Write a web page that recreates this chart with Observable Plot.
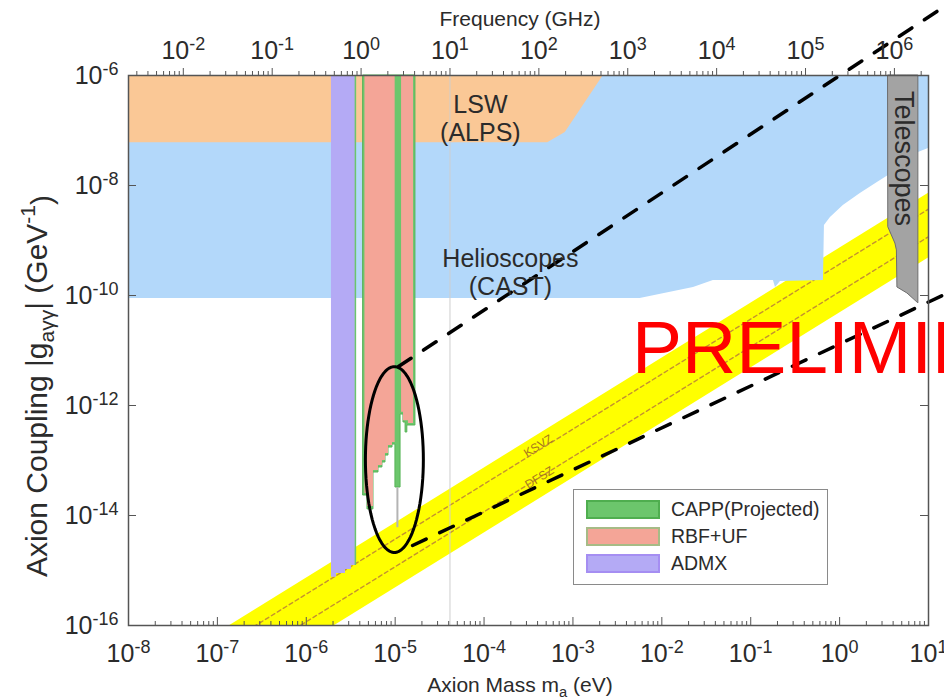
<!DOCTYPE html>
<html><head><meta charset="utf-8">
<script src="https://cdn.jsdelivr.net/npm/d3@7"></script>
<script src="https://cdn.jsdelivr.net/npm/@observablehq/plot@0.6"></script>
<style>
html,body{margin:0;padding:0;background:#fff;overflow:hidden}
#wrap{position:relative;width:944px;height:700px;overflow:hidden;font-family:"Liberation Sans",Arial,Helvetica,sans-serif}
#legend{position:absolute;left:573px;top:489px;width:255px;height:96px;border:1.5px solid #8a8a8a;background:#fff;box-sizing:border-box}
.row{position:absolute;left:12px;height:22px;display:flex;align-items:center}
.sw{width:74px;height:19px;box-sizing:border-box;border:2px solid}
.lab{margin-left:11px;font-size:19.5px;color:#2b2b2b;white-space:nowrap}
</style></head><body><div id="wrap"></div><script>
const FONT = '"Liberation Sans", Arial, Helvetica, sans-serif';
// ---- axes ----
const massTicks = [1e-8,1e-7,1e-6,1e-5,1e-4,1e-3,1e-2,1e-1,1,10];
const couplingTicks = [1e-16,1e-14,1e-12,1e-10,1e-8,1e-6];
const freqTicksGHz = [1e-2,1e-1,1,10,100,1e3,1e4,1e5,1e6];
const EV_PER_GHZ = 4.1357e-6;           // m = h f
const tenGHzMass = 10 * EV_PER_GHZ;      // thin reference line

// ---- exclusion regions ----
const lswMass  = [1e-8, 5.2e-4, 8.2e-4, 2.2e-3];
const lswLimit = [6.0e-8, 6.0e-8, 9.2e-8, 1e-6];

const castMass  = [1e-8, 5.7e-3, 2.27e-2, 3.8e-2, 0.180, 0.190, 0.216, 0.658, 0.675, 0.789, 1.10, 1.71, 2.66, 3.54, 7.69, 10];
const castLimit = [8.8e-11, 8.8e-11, 1.40e-10, 1.87e-10, 1.87e-10, 1.40e-10, 1.80e-10, 1.87e-10, 1.87e-9, 2.62e-9, 4.33e-9, 7.16e-9, 1.13e-8, 1.52e-8, 3.98e-8, 4.71e-8];

const admxMass  = [1.92e-6, 2.19e-6, 2.76e-6, 3.22e-6, 3.57e-6];
const admxLimit = [7.5e-16, 8.8e-16, 1.04e-15, 1.23e-15, 1.23e-15];

const cappMass  = [4.40e-6, 4.88e-6, 5.70e-6, 6.49e-6, 7.19e-6, 7.78e-6, 8.41e-6, 9.33e-6, 1.007e-5, 1.15e-5, 1.24e-5, 1.31e-5, 1.37e-5, 1.69e-5];
const cappLimit = [2.31e-14, 1.29e-14, 6.05e-14, 7.46e-14, 9.2e-14, 1.23e-13, 1.72e-13, 1.95e-13, 3.23e-14, 6.86e-13, 4.91e-13, 3.23e-13, 4.33e-13, 4.33e-13];
const cappSpikeMass = [1.06e-5];
const cappSpikeRange = [6.0e-15, 3.2e-14];

const rbf1Mass  = [4.57e-6, 4.88e-6, 5.70e-6, 6.49e-6, 7.19e-6, 7.78e-6, 8.41e-6, 9.33e-6, 1.0e-5];
const rbf1Limit = [2.5e-14, 1.46e-14, 6.6e-14, 8.1e-14, 1.0e-13, 1.34e-13, 1.87e-13, 2.12e-13, 2.12e-13];
const rbf2Mass  = [1.18e-5, 1.24e-5, 1.41e-5, 1.61e-5];
const rbf2Limit = [7.5e-13, 5.3e-13, 4.7e-13, 4.7e-13];

const telMass  = [3.54, 4.24, 4.41, 4.47, 5.79, 7.69];
const telLimit = [1.72e-9, 8.8e-10, 6.6e-10, 1.40e-10, 1.09e-10, 7.2e-11];

// ---- QCD axion band & models ----
const bandMass  = [1e-8, 10];
const bandUpper = [7.24e-18, 7.24e-9];
const bandLower = [4.79e-19, 4.79e-10];
const ksvzG = [3.72e-18, 3.72e-9];
const dfszG = [1.17e-18, 1.17e-9];

// ---- projected reach (black dashed) ----
const projUpperMass = [1.09e-5, 15.1];
const projUpperG    = [5.1e-12, 1.8e-5];
const projLowerMass = [1.57e-5, 15.1];
const projLowerG    = [2.85e-15, 1.04e-10];

// ---- highlight ellipse (centre in data units, half-axes in decades) ----
const ellipseCenter = [9.8e-6, 1.04e-13];
const ellipseHalfAxes = [0.326, 1.69];

// ---- labels ----
const regionLabels = [
  {m: 9.1e-5, g: 1.72e-7, t: "LSW\n(ALPS)"},
  {m: 1.98e-4, g: 2.62e-10, t: "Helioscopes\n(CAST)"}
];
const telLabel = [{m: 5.22, g: 3.1e-8, t: "Telescopes"}];
const modelLabels = [
  {m: 4.3e-4, g: 1.6e-13, t: "KSVZ", anchor: "bottom"},
  {m: 4.2e-4, g: 4.9e-14, t: "DFSZ", anchor: "middle"}
];

const zip = (xs, ys) => xs.map((m, i) => ({m, g: ys[i]}));
const dec = (d) => Math.round(Math.log10(d));
const massMinor = [];
for (let k = -8; k < 1; k++) for (let j = 2; j <= 9; j++) massMinor.push(j * 10 ** k);
const freqMajorMass = freqTicksGHz.map(f => f * EV_PER_GHZ);
const freqMinorMass = [];
for (let k = -3; k <= 6; k++) for (let j = 2; j <= 9; j++) {
  const m = j * 10 ** k * EV_PER_GHZ;
  if (m > 1e-8 && m < 10) freqMinorMass.push(m);
}
const ellipsePts = d3.range(0, 361, 4).map(a => {
  const t = a * Math.PI / 180;
  return {m: ellipseCenter[0] * 10 ** (ellipseHalfAxes[0] * Math.cos(t)),
          g: ellipseCenter[1] * 10 ** (ellipseHalfAxes[1] * Math.sin(t))};
});
const band = bandMass.map((m, i) => ({m, lo: bandLower[i], hi: bandUpper[i]}));

const PW = 800, PH = 550, TICK_FS = 25;
const plot = Plot.plot({
  width: 944, height: 700,
  marginLeft: 128, marginRight: 16, marginTop: 75, marginBottom: 75,
  x: {type: "log", domain: [1e-8, 10]},
  y: {type: "log", domain: [1e-16, 1e-6]},
  style: {fontFamily: FONT, color: "#2b2b2b", background: "white", overflow: "visible"},
  marks: [
    Plot.areaY(band, {x: "m", y1: "lo", y2: "hi", fill: "#FFFF00", clip: true}),
    Plot.line(zip(bandMass, ksvzG), {x: "m", y: "g", stroke: "#C4922F", strokeWidth: 1.4, strokeDasharray: "4,3", clip: true}),
    Plot.line(zip(bandMass, dfszG), {x: "m", y: "g", stroke: "#C4922F", strokeWidth: 1.4, strokeDasharray: "4,3", clip: true}),
    Plot.areaY(zip(castMass, castLimit), {x: "m", y1: "g", y2: 1e-6, fill: "#B3D8FA"}),
    Plot.areaY(zip(lswMass, lswLimit), {x: "m", y1: "g", y2: 1e-6, fill: "#FAC896"}),
    Plot.ruleX([tenGHzMass], {stroke: "#cfcfcf", strokeWidth: 1}),
    Plot.areaY(zip(admxMass, admxLimit), {x: "m", y1: "g", y2: 1e-6, fill: "#B4AAF5", curve: "step-after"}),
    Plot.ruleX([admxMass[admxMass.length - 1]], {y1: admxLimit[admxLimit.length - 1], y2: 1e-6, stroke: "#6CC46C", strokeWidth: 1.5}),
    Plot.areaY(zip(cappMass, cappLimit), {x: "m", y1: "g", y2: 1e-6, fill: "#6CC66C", stroke: "#58B458", strokeWidth: 1, curve: "step-after"}),
    Plot.areaY(zip(rbf1Mass, rbf1Limit), {x: "m", y1: "g", y2: 1e-6, fill: "#F4A597", curve: "step-after"}),
    Plot.areaY(zip(rbf2Mass, rbf2Limit), {x: "m", y1: "g", y2: 1e-6, fill: "#F4A597", curve: "step-after"}),
    Plot.ruleX(cappSpikeMass, {y1: cappSpikeRange[0], y2: cappSpikeRange[1], stroke: "#b4b4b4", strokeWidth: 2}),
    Plot.areaY(zip(telMass, telLimit), {x: "m", y1: "g", y2: 1e-6, fill: "#A3A3A3", stroke: "#6e6e6e", strokeWidth: 1}),
    Plot.text(modelLabels, {x: "m", y: "g", text: "t", rotate: -32, fontSize: 12, fill: "#A8781E", lineAnchor: "bottom", filter: d => d.anchor === "bottom"}),
    Plot.text(modelLabels, {x: "m", y: "g", text: "t", rotate: -32, fontSize: 12, fill: "#A8781E", lineAnchor: "middle", filter: d => d.anchor === "middle"}),
    Plot.line(zip(projUpperMass, projUpperG), {x: "m", y: "g", stroke: "black", strokeWidth: 3.5, strokeDasharray: "15,15"}),
    Plot.line(zip(projLowerMass, projLowerG), {x: "m", y: "g", stroke: "black", strokeWidth: 3.5, strokeDasharray: "15,15"}),
    Plot.line(ellipsePts, {x: "m", y: "g", stroke: "black", strokeWidth: 3, curve: "linear-closed"}),
    Plot.text(regionLabels, {x: "m", y: "g", text: "t", fontSize: 25, lineHeight: 1.12, fill: "#2b2b2b"}),
    Plot.text(telLabel, {x: "m", y: "g", text: "t", fontSize: 27, rotate: 90, fill: "#2b2b2b"}),
    Plot.frame({stroke: "#555", strokeWidth: 1.5}),
    // inward ticks (bottom, left, right)
    Plot.ruleX(massTicks, {insetTop: PH - 8, stroke: "#555"}),
    Plot.ruleX(massMinor, {insetTop: PH - 4, stroke: "#555"}),
    Plot.ruleY(couplingTicks, {insetRight: PW - 8, stroke: "#555"}),
    Plot.ruleY(couplingTicks, {insetLeft: PW - 8, stroke: "#555"}),
    // outward ticks on the top (frequency) axis
    Plot.ruleX(freqMajorMass, {y1: 1e-6, y2: 1e-6, insetBottom: 7, stroke: "#555"}),
    Plot.ruleX(freqMinorMass, {y1: 1e-6, y2: 1e-6, insetBottom: 4, stroke: "#555"}),
    Plot.text(freqMajorMass, {x: d => d, frameAnchor: "top", dy: -17, lineAnchor: "bottom", fontSize: TICK_FS, fill: "#2b2b2b",
      text: d => "10^" + Math.round(Math.log10(d / EV_PER_GHZ))}),
    // bottom & left labels
    Plot.axisX(massTicks, {anchor: "bottom", tickSize: 0, tickPadding: 19, label: null, fontSize: TICK_FS, tickFormat: d => "10^" + dec(d)}),
    Plot.axisY(couplingTicks, {anchor: "left", tickSize: 0, tickPadding: 10, label: null, fontSize: TICK_FS, tickFormat: d => "10^" + dec(d)})
  ]
});

const svg = d3.select(plot);
// superscript exponents
svg.selectAll("text").each(function () {
  const m = /^10\^(.+)$/.exec(this.textContent);
  if (!m) return;
  while (this.firstChild) this.removeChild(this.firstChild);
  const t = d3.select(this);
  t.append("tspan").text("10");
  t.append("tspan").attr("dy", "-0.5em").attr("font-size", "0.72em").text(m[1]);
});
// axis titles
const titles = svg.append("g").attr("font-family", FONT).attr("fill", "#2b2b2b").attr("font-size", 21).attr("text-anchor", "middle");
titles.append("text").attr("x", 520).attr("y", 26).text("Frequency (GHz)");
const bt = titles.append("text").attr("x", 520).attr("y", 692);
bt.append("tspan").text("Axion Mass m");
bt.append("tspan").attr("font-size", "0.7em").attr("dy", "0.35em").text("a");
bt.append("tspan").attr("dy", "-0.25em").text(" (eV)");
const lt = titles.append("text").attr("font-size", 30).attr("transform", "translate(47,386) rotate(-90)");
lt.append("tspan").text("Axion Coupling |g");
lt.append("tspan").attr("font-size", "0.7em").attr("dy", "0.35em").text("aγγ");
lt.append("tspan").attr("dy", "-0.25em").text("| (GeV");
lt.append("tspan").attr("font-size", "0.7em").attr("dy", "-0.55em").text("-1");
lt.append("tspan").attr("dy", "0.55em").text(")");
// watermark (runs off the right edge, as in the original slide)
svg.append("text").attr("x", 632).attr("y", 373).attr("font-family", FONT).attr("font-size", 75)
  .attr("text-anchor", "start").attr("fill", "#FF0000").text("PRELIMINARY");

const wrap = document.getElementById("wrap");
wrap.appendChild(plot);

// legend
const legendItems = [
  {name: "CAPP(Projected)", fill: "#6CC66C", border: "#4FAE4F"},
  {name: "RBF+UF", fill: "#F4A597", border: "#A6BB86"},
  {name: "ADMX", fill: "#B4AAF5", border: "#A58EF2"}
];
const lg = document.createElement("div");
lg.id = "legend";
legendItems.forEach((it, i) => {
  const r = document.createElement("div");
  r.className = "row";
  r.style.top = (8 + i * 27) + "px";
  r.innerHTML = `<div class="sw" style="background:${it.fill};border-color:${it.border}"></div><span class="lab">${it.name}</span>`;
  lg.appendChild(r);
});
wrap.appendChild(lg);
</script></body></html>
